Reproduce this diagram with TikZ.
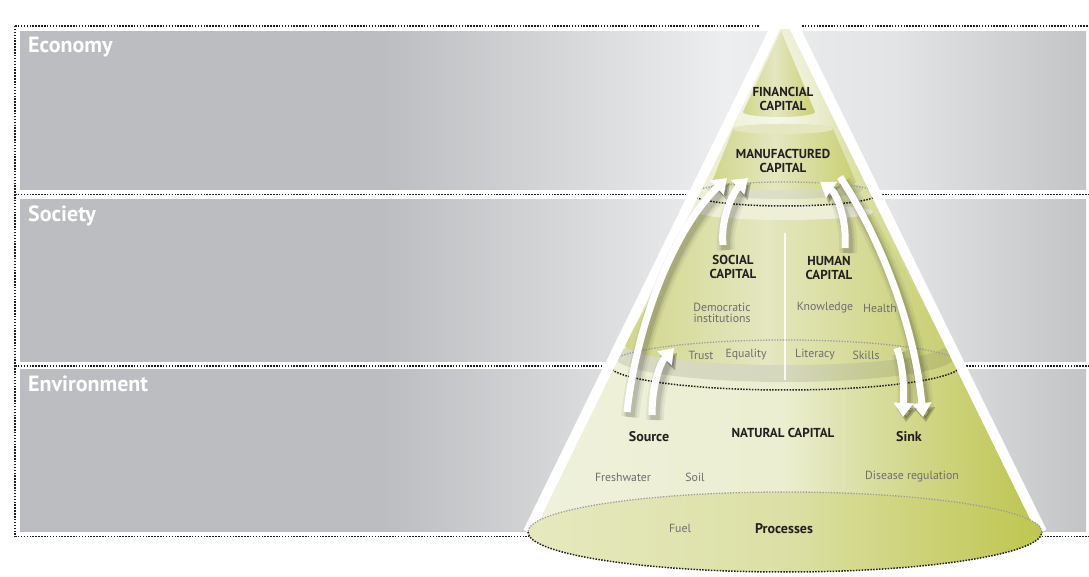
\documentclass[tikz,border=0pt]{standalone}
\usepackage{fontspec}
\setmainfont{PT Sans}
\usetikzlibrary{arrows.meta,fadings}

\definecolor{bandgray}{HTML}{BCBDC0}
\definecolor{bandlight}{HTML}{EDEEEF}
\definecolor{bandmid}{HTML}{E3E4E5}
\definecolor{bandright}{HTML}{C3C4C6}
\definecolor{coneA}{HTML}{EFF1DC}
\definecolor{coneB}{HTML}{EBEED0}
\definecolor{coneC}{HTML}{D9DEA2}
\definecolor{coneD}{HTML}{BDC44B}
\definecolor{tierA}{HTML}{D1D68B}
\definecolor{tierB}{HTML}{E4E7C0}
\definecolor{tierC}{HTML}{C9CF72}
\definecolor{faceA}{HTML}{EDEFD6}
\definecolor{baseA}{HTML}{E6E9BE}
\definecolor{baseB}{HTML}{DCE0A6}
\definecolor{baseC}{HTML}{BFC64F}
\definecolor{ink}{HTML}{231F20}
\definecolor{soft}{HTML}{6D6E71}
\definecolor{dotgray}{HTML}{9B9C9E}

% soft radial fading used for the pale halo near the tip
\tikzfading[name=halofade, inner color=transparent!0, outer color=transparent!100]

% grey bands: dark on the left, pale around the cone, grey again at the right edge
\pgfdeclarehorizontalshading{bandshade}{100bp}{color(0bp)=(bandgray); color(42bp)=(bandgray); color(58bp)=(bandlight); color(66bp)=(bandmid); color(75bp)=(bandright); color(100bp)=(bandright)}
% cone body: cream on the left, yellow-green on the right
\pgfdeclarehorizontalshading{coneshade}{100bp}{color(0bp)=(coneA); color(25bp)=(coneA); color(50bp)=(coneB); color(58bp)=(coneC); color(75bp)=(coneD); color(100bp)=(coneD)}
% tiers inside the cone, with a soft highlight left of centre
\pgfdeclarehorizontalshading{tiershade}{100bp}{color(0bp)=(tierA); color(25bp)=(tierA); color(47bp)=(tierB); color(75bp)=(tierC); color(100bp)=(tierC)}
% base disc
\pgfdeclarehorizontalshading{baseshade}{100bp}{color(0bp)=(baseA); color(25bp)=(baseA); color(50bp)=(baseB); color(75bp)=(baseC); color(100bp)=(baseC)}

% white curved flow arrow with a soft shadow
\newcommand\flowarrow[4]{%
  \foreach \w/\o in {18/0.05,13/0.08,9/0.1}{%
    \draw[black,opacity=\o,line width=\w pt,-{Triangle[width=20pt,length=14pt]},
      transform canvas={shift={(3pt,-5pt)}}] (#1) .. controls (#2) and (#3) .. (#4);}
  \draw[flow] (#1) .. controls (#2) and (#3) .. (#4);}

\begin{document}
\begin{tikzpicture}[x=1pt,y=1pt,
  dotline/.style={line width=1.5pt, dash pattern=on 1.5pt off 1.4pt, ink},
  dotback/.style={line width=1.3pt, dash pattern=on 1.3pt off 1.5pt, dotgray},
  band/.style={shading=bandshade},
  flow/.style={white, line width=7pt, -{Triangle[width=19pt,length=14pt]}},
  region/.style={font=\bfseries\fontsize{22}{24}\selectfont, text=white, anchor=west, inner sep=0pt},
  capital/.style={font=\bfseries\fontsize{13}{13.5}\selectfont, text=ink, align=center, inner sep=0pt},
  item/.style={font=\fontsize{11.8}{11.5}\selectfont, text=soft, align=center, inner sep=0pt},
  role/.style={font=\bfseries\fontsize{14}{15}\selectfont, text=ink, inner sep=0pt},
]
\useasboundingbox (0,0) rectangle (1089,577);

% dotted frame
\draw[dotline] (15,551) -- (760,551);
\draw[dotline] (802,551) -- (1089,551);
\draw[dotline] (15,382.5) -- (1089,382.5);
\draw[dotline] (15,211) -- (1089,211);
\draw[dotline] (15,40.5) -- (1089,40.5);
\draw[dotline] (15,551) -- (15,40.5);

% the three grey bands
\shade[band] (20,545.5) rectangle (1086,387);
\shade[band] (20,377) rectangle (1086,215.5);
\shade[band] (20,207) rectangle (1086,45.5);

% cone
\coordinate (apex) at (785,569);
\coordinate (baseL) at (528,45);
\coordinate (baseR) at (1042,45);
\shade[shading=coneshade] (apex) -- (baseL) arc[start angle=180,end angle=360,x radius=257pt,y radius=40pt] -- cycle;

% pale halo round the upper tiers
\begin{scope}
  \clip (apex) -- (baseL) -- (baseR) -- cycle;
  \fill[white,opacity=0.55,path fading=halofade] (778,470) ellipse [x radius=75pt,y radius=110pt];
\end{scope}

% social / human tier
\fill[black,opacity=0.09] (785,220) ellipse [x radius=170pt, y radius=25pt];
\shade[shading=tiershade] (697,365) -- (625,232) arc[start angle=180,end angle=360,x radius=160pt,y radius=20pt] -- (873,365) arc[start angle=0,end angle=180,x radius=88pt,y radius=8pt] -- cycle;
\fill[faceA] (785,365) ellipse [x radius=88pt,y radius=8pt];
\draw[white, line width=2.2pt, opacity=0.85] (785,344) -- (785,197);

% manufactured tier
\fill[black,opacity=0.07] (785,388) ellipse [x radius=78pt,y radius=10pt];
\shade[shading=tiershade] (733,448) -- (712,395) arc[start angle=180,end angle=360,x radius=72pt,y radius=8pt] -- (833,448) arc[start angle=0,end angle=180,x radius=50pt,y radius=5pt] -- cycle;
\fill[tierB] (783,448) ellipse [x radius=50pt,y radius=5pt];

% financial tier
\shade[shading=tiershade] (781,546) -- (743,465) arc[start angle=180,end angle=360,x radius=36pt,y radius=5pt] -- cycle;

% dotted rings where the bands meet the cone
\draw[dotback] (878,383) arc[start angle=0,end angle=180,x radius=93pt,y radius=12pt];
\draw[dotline] (692,383) arc[start angle=180,end angle=360,x radius=93pt,y radius=12pt];
\draw[dotback] (961,212) arc[start angle=0,end angle=180,x radius=176pt,y radius=25pt];
\draw[dotline] (609,212) arc[start angle=180,end angle=360,x radius=176pt,y radius=25pt];

% white outline of the cone, with a rounded white tip
\draw[white, line width=10pt, line join=round] (baseL) -- (apex) -- (baseR);
\fill[white] (785,570) -- (774,548) -- (796,548) -- cycle;

% base disc
\shade[shading=baseshade] (785,45) ellipse [x radius=257pt,y radius=40pt];
\draw[dotback] (1042,45) arc[start angle=0,end angle=180,x radius=257pt,y radius=40pt];
\draw[dotline] (528,45) arc[start angle=180,end angle=360,x radius=257pt,y radius=40pt];

% flow arrows
\coordinate (aS) at (627,165);  \coordinate (aT) at (727,399);
\coordinate (bS) at (723,332);  \coordinate (bT) at (748,399);
\coordinate (cS) at (845,329);  \coordinate (cT) at (820,395);
\coordinate (dS) at (652,162);  \coordinate (dT) at (674,229);
\coordinate (eS) at (840,400);  \coordinate (eT) at (923,160);
\coordinate (fS) at (897,229);  \coordinate (fT) at (903,160);
\flowarrow{aS}{638,262}{678,352}{aT}
\flowarrow{bS}{720,365}{738,390}{bT}
\flowarrow{cS}{847,360}{836,384}{cT}
\flowarrow{dS}{652,192}{660,214}{dT}
\flowarrow{eS}{880,340}{915,250}{eT}
\flowarrow{fS}{904,208}{904,185}{fT}

% band titles
\node[region] (economy) at (28,530) {Economy};
\node[region] (society) at (28,361) {Society};
\node[region] (environment) at (28,193) {Environment};

% labels in the cone
\node[capital] (financial) at (783,478) {FINANCIAL\\CAPITAL};
\node[capital] (manufactured) at (783,416) {MANUFACTURED\\CAPITAL};
\node[capital] (social) at (733,310) {SOCIAL\\CAPITAL};
\node[capital] (human) at (829,309) {HUMAN\\CAPITAL};
\node[item] (democratic) at (722,264) {Democratic\\institutions};
\node[item] (knowledge) at (825,269) {Knowledge};
\node[item] (health) at (880,269) {Health};
\node[item] (trust) at (701,222) {Trust};
\node[item] (equality) at (746,222) {Equality};
\node[item] (literacy) at (815,222) {Literacy};
\node[item] (skills) at (866,222) {Skills};
\node[role] (source) at (649,140) {Source};
\node[capital] (natural) at (783,144) {NATURAL CAPITAL};
\node[role] (sink) at (909,140) {Sink};
\node[item] (freshwater) at (623,100) {Freshwater};
\node[item] (soil) at (695,100) {Soil};
\node[item] (disease) at (912,100) {Disease regulation};
\node[item] (fuel) at (680,49) {Fuel};
\node[role] (processes) at (784,48) {Processes};
\end{tikzpicture}
\end{document}
